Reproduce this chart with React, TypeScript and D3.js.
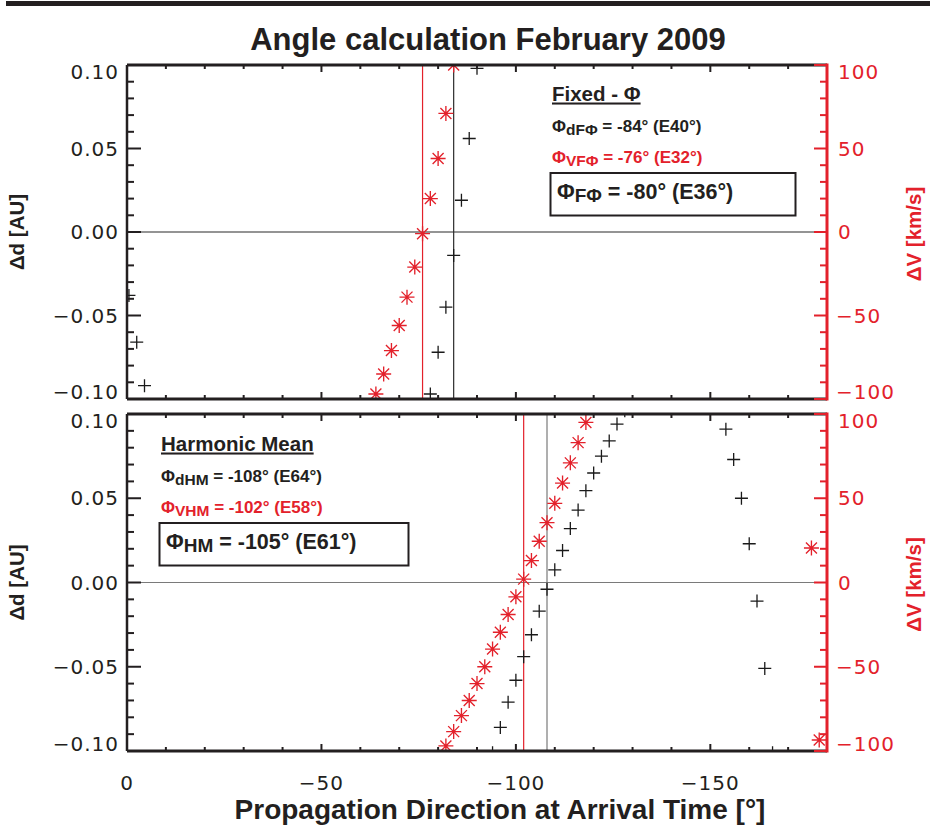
import React from "react";
import * as d3 from "d3";

const W = 930;
const H = 827;
const RED = "#e3212b";
const LABEL_FONT = "'DejaVu Sans', sans-serif";
const BOLD_FONT = "'Liberation Sans', Arial, sans-serif";

// Propagation direction axis (degrees)
const xDomain: [number, number] = [0, -180];
const xMajorTicks = [0, -50, -100, -150];
const dMajorTicks = [0.1, 0.05, 0, -0.05, -0.1];
const vMajorTicks = [100, 50, 0, -50, -100];

// Fixed-Φ fit: distance residual Δd [AU] vs direction
const fixedDirD = [-0.5, -2.5, -4.5, -78, -80, -82, -84, -86, -88, -90];
const fixedDeltaD = [-0.038, -0.066, -0.092, -0.097, -0.072, -0.045, -0.014, 0.019, 0.056, 0.098];
// Fixed-Φ fit: velocity residual ΔV [km/s] vs direction
const fixedDirV = [-64, -66, -68, -70, -72, -74, -76, -78, -80, -82, -84];
const fixedDeltaV = [-97, -85, -71, -56, -39, -21, -1, 20, 44, 71, 100];

// Harmonic-mean fit: distance residual
const harmDirD = [-94, -96, -98, -100, -102, -104, -106, -108, -110, -112, -114, -116, -118, -120, -122, -124, -126, -128, -154, -156, -158, -160, -162, -164, -166];
const harmDeltaD = [-0.101, -0.086, -0.071, -0.058, -0.044, -0.031, -0.017, -0.004, 0.0075, 0.019, 0.032, 0.043, 0.0545, 0.065, 0.075, 0.084, 0.094, 0.102, 0.091, 0.073, 0.05, 0.023, -0.011, -0.051, -0.101];
// Harmonic-mean fit: velocity residual
const harmDirV = [-82, -84, -86, -88, -90, -92, -94, -96, -98, -100, -102, -104, -106, -108, -110, -112, -114, -116, -118, -176, -178];
const harmDeltaV = [-97, -88.5, -79, -70, -60, -50, -39.5, -29.5, -19, -8.5, 2, 13, 24.5, 35.5, 47, 59, 71, 83, 95, 20.5, -93.5];

// Resulting angles (Φ) and elongations (E) for d-, V- and combined solutions
const fixedPhi = [-84, -76, -80];
const fixedElong = [40, 32, 36];
const harmPhi = [-108, -102, -105];
const harmElong = [64, 58, 61];

const PLOT_LEFT = 127;
const PLOT_RIGHT = 827;
const x = d3.scaleLinear().domain(xDomain).range([PLOT_LEFT, PLOT_RIGHT]);

const plusPath = "M-6.5,0H6.5M0,-6.5V6.5";
const starPath = "M-7.5,0H7.5M0,-7.5V7.5M-5.5,-5.5L5.5,5.5M-5.5,5.5L5.5,-5.5";

const fmtD = d3.format(".2f");
const fmtInt = d3.format("d");
const angleText = (phi: number, e: number) => ` = -${Math.abs(phi)}° (E${e}°)`;

type PanelProps = {
  id: string;
  top: number;
  bottom: number;
  dirD: number[];
  deltaD: number[];
  dirV: number[];
  deltaV: number[];
  phi: number[];
  elong: number[];
  heading: string;
  subs: string[];
  legendX: number;
  legendY: number;
  boxW: number;
  refColor: string;
  showXLabels: boolean;
};

function Panel(p: PanelProps) {
  const yD = d3.scaleLinear().domain([-0.1, 0.1]).range([p.bottom, p.top]);
  const yV = d3.scaleLinear().domain([-100, 100]).range([p.bottom, p.top]);
  const xMinor = d3.range(0, 19).map((i) => -i * 10);
  const dMinor = d3.range(-10, 11).map((i) => i / 100);
  const vMinor = d3.range(-10, 11).map((i) => i * 10);
  const clipId = `clip-${p.id}`;
  const lx = p.legendX;
  const ly = p.legendY;
  const endShift = (i: number, n: number) => (i === 0 ? 7 : i === n - 1 ? -7 : 0);

  return (
    <g>
      <defs>
        <clipPath id={clipId}>
          <rect x={PLOT_LEFT} y={p.top} width={PLOT_RIGHT - PLOT_LEFT} height={p.bottom - p.top} />
        </clipPath>
      </defs>

      {/* reference lines */}
      <line x1={PLOT_LEFT} x2={PLOT_RIGHT} y1={yD(0)} y2={yD(0)} stroke={p.refColor} strokeWidth={1.2} />
      <line x1={x(p.phi[1])} x2={x(p.phi[1])} y1={p.top} y2={p.bottom} stroke={RED} strokeWidth={1.2} />
      <line x1={x(p.phi[0])} x2={x(p.phi[0])} y1={p.top} y2={p.bottom} stroke={p.refColor} strokeWidth={1.2} />

      {/* residual markers */}
      <g clipPath={`url(#${clipId})`}>
        {p.dirV.map((d, i) => (
          <path key={`v${i}`} d={starPath} transform={`translate(${x(d)},${yV(p.deltaV[i])})`} stroke={RED} strokeWidth={1.35} fill="none" />
        ))}
        {p.dirD.map((d, i) => (
          <path key={`d${i}`} d={plusPath} transform={`translate(${x(d)},${yD(p.deltaD[i])})`} stroke="#1a1a1a" strokeWidth={1.3} fill="none" />
        ))}
      </g>

      {/* legend */}
      <g fontFamily={BOLD_FONT} fontWeight="bold">
        <text x={lx} y={ly} fontSize={20.5} fill="#231f20" style={{ textDecoration: "underline" }}>
          {p.heading}
        </text>
        <text x={lx} y={ly + 31.5} fontSize={17} fill="#231f20">
          Φ<tspan fontSize={15.5} dy={3}>{p.subs[0]}</tspan>
          <tspan dy={-3}>{angleText(p.phi[0], p.elong[0])}</tspan>
        </text>
        <text x={lx} y={ly + 62.5} fontSize={17} fill={RED}>
          Φ<tspan fontSize={15.5} dy={3}>{p.subs[1]}</tspan>
          <tspan dy={-3}>{angleText(p.phi[1], p.elong[1])}</tspan>
        </text>
        <rect x={lx - 1.5} y={ly + 72.5} width={p.boxW} height={42.5} fill="none" stroke="#231f20" strokeWidth={2} />
        <text x={lx + 5} y={ly + 98.3} fontSize={21.5} fill="#231f20">
          Φ<tspan fontSize={19} dy={3.5}>{p.subs[2]}</tspan>
          <tspan dy={-3.5}>{angleText(p.phi[2], p.elong[2])}</tspan>
        </text>
      </g>

      {/* frame */}
      <line x1={PLOT_LEFT} x2={PLOT_RIGHT} y1={p.top} y2={p.top} stroke="#231f20" strokeWidth={3} />
      <line x1={PLOT_LEFT} x2={PLOT_RIGHT} y1={p.bottom} y2={p.bottom} stroke="#231f20" strokeWidth={3} />
      <line x1={PLOT_LEFT} x2={PLOT_LEFT} y1={p.top} y2={p.bottom} stroke="#231f20" strokeWidth={2.5} />

      {/* x ticks on top and bottom edges */}
      {xMinor.map((t) => {
        const len = t % 50 === 0 ? 7 : 4;
        return (
          <g key={`xt${t}`} stroke="#231f20" strokeWidth={2}>
            <line x1={x(t)} x2={x(t)} y1={p.top} y2={p.top + len} />
            <line x1={x(t)} x2={x(t)} y1={p.bottom} y2={p.bottom - len} />
          </g>
        );
      })}

      {/* left Δd axis ticks */}
      {dMinor.map((t, i) => (
        <line key={`dt${i}`} x1={PLOT_LEFT} x2={PLOT_LEFT + (i % 5 === 0 ? 14 : 7)} y1={yD(t)} y2={yD(t)} stroke="#231f20" strokeWidth={2} />
      ))}
      <g fontFamily={LABEL_FONT} fontSize={20} fill="#231f20" textAnchor="end" letterSpacing={1}>
        {dMajorTicks.map((t, i) => (
          <text key={`dl${t}`} x={119} y={yD(t) + 7 + endShift(i, dMajorTicks.length)}>
            {fmtD(t)}
          </text>
        ))}
      </g>

      {/* right ΔV axis */}
      <line x1={PLOT_RIGHT} x2={PLOT_RIGHT} y1={p.top - 1.5} y2={p.bottom + 1.5} stroke={RED} strokeWidth={3} />
      {vMinor.map((t, i) => (
        <line key={`vt${i}`} x1={PLOT_RIGHT} x2={PLOT_RIGHT - (i % 5 === 0 ? 13 : 7)} y1={yV(t)} y2={yV(t)} stroke={RED} strokeWidth={2} />
      ))}
      <g fontFamily={LABEL_FONT} fontSize={20} fill={RED} textAnchor="start" letterSpacing={1}>
        {vMajorTicks.map((t, i) => (
          <text key={`vl${t}`} x={t < 0 ? 836 : 838} y={yV(t) + 7 + endShift(i, vMajorTicks.length)}>
            {fmtInt(t)}
          </text>
        ))}
      </g>

      {/* axis titles */}
      <text
        transform={`translate(24,${(p.top + p.bottom) / 2}) rotate(-90)`}
        textAnchor="middle"
        fontFamily={BOLD_FONT}
        fontWeight="bold"
        fontSize={20.5}
        fill="#231f20"
      >
        Δd [AU]
      </text>
      <text
        transform={`translate(921,${(p.top + p.bottom) / 2 + 2}) rotate(-90)`}
        textAnchor="middle"
        fontFamily={BOLD_FONT}
        fontWeight="bold"
        fontSize={20.5}
        fill={RED}
      >
        ΔV [km/s]
      </text>

      {p.showXLabels && (
        <g fontFamily={LABEL_FONT} fontSize={20} fill="#231f20" textAnchor="middle" letterSpacing={1}>
          {xMajorTicks.map((t) => (
            <text key={`xl${t}`} x={x(t)} y={790}>
              {fmtInt(t)}
            </text>
          ))}
        </g>
      )}
    </g>
  );
}

export default function App() {
  return (
    <svg
      width={W}
      height={H}
      viewBox={`0 0 ${W} ${H}`}
      style={{ position: "absolute", left: 0, top: 0, background: "#fff" }}
    >
      <rect x={0} y={0} width={W} height={H} fill="#fff" />
      <rect x={6} y={1} width={W - 6} height={5} fill="#231f20" />

      <text x={488} y={50} textAnchor="middle" fontFamily={BOLD_FONT} fontWeight="bold" fontSize={31} fill="#231f20">
        Angle calculation February 2009
      </text>

      <Panel
        id="fixed"
        top={65}
        bottom={399}
        dirD={fixedDirD}
        deltaD={fixedDeltaD}
        dirV={fixedDirV}
        deltaV={fixedDeltaV}
        phi={fixedPhi}
        elong={fixedElong}
        heading="Fixed - Φ"
        subs={["dFΦ", "VFΦ", "FΦ"]}
        legendX={552}
        legendY={100.5}
        boxW={245}
        refColor="#2b2b2b"
        showXLabels={false}
      />
      <Panel
        id="harmonic"
        top={414}
        bottom={751}
        dirD={harmDirD}
        deltaD={harmDeltaD}
        dirV={harmDirV}
        deltaV={harmDeltaV}
        phi={harmPhi}
        elong={harmElong}
        heading="Harmonic Mean"
        subs={["dHM", "VHM", "HM"]}
        legendX={161}
        legendY={450.5}
        boxW={249}
        refColor="#7a7a7a"
        showXLabels={true}
      />

      <text x={500} y={819} textAnchor="middle" fontFamily={BOLD_FONT} fontWeight="bold" fontSize={28} fill="#231f20">
        Propagation Direction at Arrival Time [°]
      </text>
    </svg>
  );
}
